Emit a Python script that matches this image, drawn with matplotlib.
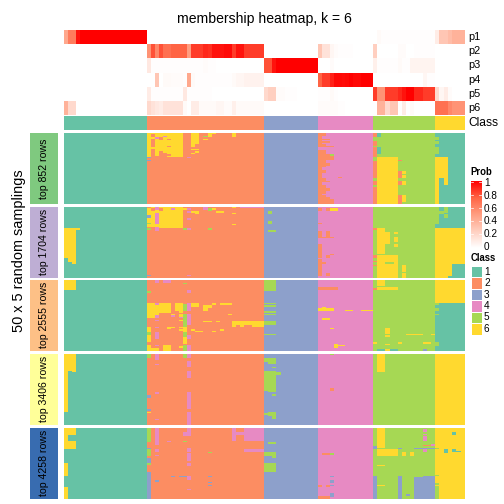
import numpy as np
import matplotlib
matplotlib.use("Agg")
import matplotlib.pyplot as plt
from matplotlib.colors import ListedColormap, LinearSegmentedColormap, BoundaryNorm

plt.rcParams['font.family'] = ['Liberation Sans', 'DejaVu Sans']

class_colors = ["#66C2A5", "#FC8D62", "#8DA0CB", "#E78AC3", "#A6D854", "#FFD92F"]
panel_colors = ["#7FC97F", "#BEAED4", "#FDC086", "#FFFF99", "#386CB0"]
panel_labels = ["top 852 rows", "top 1704 rows", "top 2555 rows", "top 3406 rows", "top 4258 rows"]
row_names = ["p1", "p2", "p3", "p4", "p5", "p6"]
prob_ticks = [0, 0.2, 0.4, 0.6, 0.8, 1]
class_ticks = [1, 2, 3, 4, 5, 6]

# number of columns in each class block
group_cols = [21, 29, 13, 14, 15, 7]
n_rows = 50

# membership probabilities, one list per class block
p1 = [[.45, .65, .65, .95] + [1] * 17, [0] * 29, [0] * 13, [0] * 14,
      [0, .03, .01, .01, .01, .01, .01, .01, .01, .01, .01, .01, .01, .01, .01],
      [.1, .3, .3, .35, .4, .4, .4]]
p2 = [[0] * 21,
      [.55, .8, .6, .8, .7, .7, .75, .75, .75, .75, .5, .85, .85, .85, .9, .88, .95, .95, .95,
       .97, .97, .85, .95, .95, .85, .85, .85, .85, .85],
      [0] * 13, [.3, .15, .15, .05, .02, .01, .01, .01, .01, 0, 0, 0, 0, 0],
      [.25, 0, 0, 0, 0, 0, .02, .02, 0, 0, .01, .01, .01, .01, .01], [0] * 7]
p3 = [[0] * 21,
      [.12, .01, .01, .01, .01, .01, .01, .01, .01, .01, .01, .01, .01, .01, .02, .01, .01, 0, 0, 0, 0, 0, 0, 0, 0, 0, 0, 0, 0],
      [.8, .8, .95, 1, 1, 1, 1, 1, 1, 1, 1, 1, 1], [0, 0, 0, .02, 0, 0, 0, 0, 0, 0, 0, 0, 0, 0],
      [.08, .01, .01, .01, .01, .01, .03, .01, .01, .06, .06, .06, .06, .06, .06], [0] * 7]
p4 = [[0] * 21,
      [0, 0, .3, 0, .03, .03, .02, .02, .02, .01, .45, .03, .01, .01, .01, .01, .01, .01, .01,
       .01, .01, .03, .05, .05, .07, .07, .07, .07, .07],
      [0] * 13, [.75, .85, .85, .92, .98, .98, .97, .98, 1, .98, .98, 1, 1, 1],
      [0, 0, 0, 0, 0, 0, 0, 0, 0, 0, 0, 0, .05, .01, .01], [0] * 7]
p5 = [[0] * 21,
      [.1, .01, .01, .01, .01, .01, .01, .01, .01, .12, .01, .01, .01, .01, .01, .01, 0, 0, 0, 0, 0, 0, 0, 0, 0, 0, 0, 0, 0],
      [.2, .25, .25, .02, .02, .01, .01, .01, 0, 0, 0, 0, 0],
      [.01, .01, .01, .03, .01, 0, 0, 0, 0, 0, 0, 0, 0, 0],
      [.85, .55, .55, .85, .85, .85, .9, .95, 1, 1, .9, .9, .85, .85, .85],
      [.2, .05, .1, .02, 0, 0, 0]]
p6 = [[.4, .2, .2] + [0] * 18,
      [.2, .15, .12, .1, .15, .15, .15, .15, .15, .03, 0, .1, .1, .03, .03, .03, .03, .05, .05,
       .02, .02, .08, .03, .03, .03, .03, .03, .03, .03],
      [0] * 13, [.02, .02, .02, .02, .02, .01, .01, 0, 0, 0, 0, 0, 0, 0],
      [0, .4, .4, .2, .3, .3, 0, .1, 0, .03, 0, 0, 0, 0, 0],
      [.7, .7, .7, .6, .55, .55, .55]]
prob_rows = [p1, p2, p3, p4, p5, p6]

# cells that differ from the consensus class:
# (class block, first col, end col, first row, end row, class)
top_852 = [
    (2, 0, 9, 0, 17, 6), (2, 1, 2, 1, 3, 2), (2, 1, 2, 4, 10, 2), (2, 1, 2, 11, 17, 2),
    (2, 2, 3, 3, 4, 4), (2, 2, 3, 16, 17, 2), (2, 3, 4, 3, 5, 2), (2, 3, 4, 13, 17, 2),
    (2, 4, 5, 2, 3, 4), (2, 4, 5, 14, 17, 2), (2, 5, 6, 4, 5, 2), (2, 5, 6, 9, 10, 2),
    (2, 5, 6, 15, 16, 2), (2, 11, 13, 0, 8, 6), (2, 11, 12, 8, 10, 6), (2, 11, 13, 11, 12, 6),
    (2, 12, 13, 13, 14, 6), (2, 11, 12, 14, 15, 6), (2, 14, 15, 2, 3, 5), (2, 14, 15, 4, 5, 6),
    (2, 15, 16, 0, 3, 6), (2, 16, 17, 0, 1, 6), (2, 21, 22, 0, 3, 6),
    (2, 0, 1, 17, 18, 3), (2, 0, 1, 19, 20, 3), (2, 10, 11, 17, 18, 4),
    (4, 5, 6, 31, 32, 2), (4, 3, 4, 15, 16, 5),
    (5, 0, 1, 0, 3, 2), (5, 0, 1, 6, 9, 2), (5, 0, 1, 10, 17, 2), (5, 0, 1, 20, 32, 2),
    (5, 0, 1, 34, 37, 2), (5, 0, 1, 38, 50, 2), (5, 1, 2, 0, 3, 1), (5, 1, 2, 10, 15, 1),
    (5, 1, 6, 17, 50, 6), (5, 6, 7, 19, 20, 2), (5, 6, 7, 27, 32, 2), (5, 7, 8, 27, 29, 6),
    (5, 7, 8, 30, 32, 6), (5, 6, 7, 34, 37, 2), (5, 7, 8, 34, 37, 6), (5, 6, 7, 44, 50, 2),
    (5, 7, 8, 44, 49, 6),
    (6, 0, 7, 0, 50, 1), (6, 0, 1, 3, 5, 5), (6, 0, 1, 6, 8, 5), (6, 0, 1, 10, 15, 5),
    (6, 0, 3, 17, 32, 6), (6, 0, 1, 32, 50, 6), (6, 2, 3, 32, 37, 6),
]
top_1704 = [
    (1, 0, 3, 15, 36, 6), (1, 1, 3, 36, 39, 6), (1, 2, 3, 39, 40, 6), (1, 3, 4, 15, 16, 6),
    (2, 0, 9, 0, 15, 6), (2, 0, 1, 0, 1, 2), (2, 0, 1, 6, 8, 3), (2, 0, 1, 11, 12, 5),
    (2, 0, 1, 14, 15, 2), (2, 0, 1, 15, 16, 5), (2, 1, 2, 1, 3, 2), (2, 1, 2, 14, 15, 2),
    (2, 2, 3, 0, 2, 4), (2, 2, 3, 4, 12, 4), (2, 2, 3, 14, 17, 4), (2, 3, 4, 1, 3, 2),
    (2, 6, 7, 1, 2, 4), (2, 9, 10, 1, 2, 6), (2, 10, 11, 1, 2, 4), (2, 10, 11, 3, 4, 4),
    (2, 10, 11, 8, 9, 4), (2, 9, 10, 15, 16, 5), (2, 10, 11, 15, 16, 4), (2, 11, 12, 3, 4, 6),
    (2, 12, 13, 3, 5, 6), (2, 14, 15, 0, 2, 4), (2, 15, 16, 1, 3, 5), (2, 15, 16, 15, 16, 5),
    (2, 16, 17, 1, 2, 6), (2, 17, 19, 3, 4, 6), (2, 21, 22, 0, 1, 6), (2, 21, 22, 4, 5, 6),
    (2, 21, 22, 12, 13, 6), (2, 23, 29, 0, 1, 4), (2, 0, 1, 48, 49, 3), (2, 10, 11, 48, 49, 4),
    (3, 1, 2, 3, 5, 5), (3, 1, 2, 10, 12, 5), (3, 1, 3, 16, 18, 5),
    (4, 0, 1, 1, 3, 2), (4, 2, 3, 1, 3, 2), (4, 3, 5, 1, 3, 6), (4, 0, 1, 11, 12, 2),
    (4, 0, 1, 17, 22, 2), (4, 2, 3, 17, 22, 2), (4, 1, 4, 21, 22, 2), (4, 0, 1, 26, 36, 2),
    (4, 2, 3, 34, 36, 2), (4, 3, 4, 33, 34, 2), (4, 0, 1, 37, 49, 2), (4, 1, 2, 39, 40, 2),
    (4, 2, 3, 47, 49, 2),
    (5, 0, 1, 15, 16, 2), (5, 0, 1, 34, 36, 2), (5, 0, 1, 38, 39, 2), (5, 0, 1, 41, 42, 2),
    (5, 1, 3, 15, 33, 6), (5, 3, 4, 18, 26, 6), (5, 5, 6, 18, 19, 6), (5, 5, 6, 21, 25, 6),
    (5, 5, 6, 26, 28, 6), (5, 1, 6, 34, 50, 6), (5, 3, 5, 39, 40, 5), (5, 7, 8, 41, 46, 6),
    (5, 7, 8, 47, 50, 6),
    (6, 0, 7, 0, 15, 1), (6, 0, 1, 0, 12, 5), (6, 1, 2, 3, 5, 5), (6, 2, 3, 0, 4, 5),
    (6, 2, 3, 5, 8, 5), (6, 4, 7, 40, 50, 1), (6, 3, 4, 49, 50, 1),
]
top_2555 = [
    (1, 0, 3, 0, 7, 6),
    (2, 2, 3, 0, 2, 4), (2, 4, 6, 0, 2, 4), (2, 9, 10, 2, 3, 5), (2, 0, 1, 8, 9, 5),
    (2, 10, 11, 7, 9, 4), (2, 0, 6, 16, 22, 6), (2, 7, 9, 16, 22, 6), (2, 2, 3, 16, 18, 4),
    (2, 9, 10, 17, 22, 5), (2, 10, 11, 16, 22, 4), (2, 0, 2, 22, 27, 6), (2, 2, 3, 22, 25, 6),
    (2, 2, 3, 25, 27, 4), (2, 2, 3, 28, 29, 4), (2, 3, 6, 22, 23, 6), (2, 6, 7, 24, 25, 6),
    (2, 6, 7, 25, 26, 4), (2, 8, 9, 22, 23, 6), (2, 8, 9, 24, 26, 6), (2, 8, 9, 26, 27, 4),
    (2, 8, 9, 28, 29, 6), (2, 9, 10, 24, 33, 5), (2, 10, 11, 24, 32, 4), (2, 9, 10, 33, 37, 6),
    (2, 9, 10, 37, 40, 5), (2, 9, 10, 40, 45, 6), (2, 9, 10, 46, 50, 5), (2, 10, 11, 39, 42, 4),
    (2, 10, 11, 46, 50, 4), (2, 0, 1, 33, 37, 6), (2, 0, 1, 37, 39, 5), (2, 0, 1, 39, 44, 6),
    (2, 0, 1, 46, 48, 6), (2, 0, 3, 48, 50, 6), (2, 2, 3, 33, 34, 4), (2, 2, 3, 37, 42, 4),
    (2, 2, 3, 46, 47, 4), (2, 5, 6, 33, 35, 6), (2, 6, 7, 33, 34, 6), (2, 8, 9, 33, 34, 6),
    (2, 8, 9, 35, 36, 6), (2, 4, 6, 46, 50, 6), (2, 8, 9, 47, 48, 6),
    (2, 11, 13, 16, 19, 6), (2, 14, 16, 18, 20, 6), (2, 14, 15, 20, 22, 6), (2, 16, 17, 16, 18, 6),
    (2, 18, 21, 16, 18, 6), (2, 20, 21, 24, 25, 6), (2, 14, 16, 29, 30, 6), (2, 17, 18, 29, 30, 6),
    (2, 21, 29, 29, 33, 6), (2, 22, 23, 32, 33, 2), (2, 24, 26, 32, 33, 2), (2, 11, 12, 35, 36, 6),
    (2, 12, 14, 36, 37, 6), (2, 16, 17, 36, 37, 6), (2, 18, 19, 35, 36, 6),
    (3, 0, 3, 0, 8, 5), (3, 0, 3, 16, 17, 5), (3, 0, 3, 18, 19, 5), (3, 0, 3, 22, 23, 5),
    (3, 0, 3, 24, 25, 5), (3, 0, 3, 29, 32, 5), (3, 0, 3, 38, 39, 5),
    (4, 0, 5, 5, 7, 2), (4, 0, 1, 20, 22, 6), (4, 1, 2, 19, 22, 6), (4, 2, 4, 20, 22, 6),
    (4, 7, 9, 21, 22, 6), (4, 11, 14, 21, 22, 6), (4, 1, 3, 27, 28, 6), (4, 3, 4, 34, 35, 6),
    (4, 4, 5, 45, 48, 6), (4, 5, 7, 46, 47, 6),
    (5, 1, 3, 0, 4, 6), (5, 1, 6, 5, 7, 6), (5, 0, 1, 6, 7, 2), (5, 3, 4, 34, 38, 6),
    (5, 3, 4, 39, 40, 6), (5, 8, 12, 38, 39, 6), (5, 14, 15, 38, 39, 6), (5, 0, 1, 44, 45, 6),
    (5, 3, 4, 45, 46, 6), (5, 6, 7, 44, 45, 6), (5, 12, 14, 44, 45, 6), (5, 1, 3, 49, 50, 1),
    (5, 3, 4, 49, 50, 6), (5, 4, 6, 49, 50, 1), (5, 12, 13, 49, 50, 3),
    (6, 0, 7, 16, 50, 1), (6, 0, 1, 16, 18, 5), (6, 0, 1, 20, 22, 5), (6, 0, 1, 24, 25, 5),
    (6, 0, 1, 44, 47, 5),
]
top_3406 = [
    (1, 0, 3, 0, 12, 6), (1, 2, 3, 12, 13, 6), (1, 0, 1, 12, 41, 6),
    (2, 0, 1, 0, 3, 5), (2, 2, 3, 0, 4, 4), (2, 2, 3, 7, 8, 4), (2, 10, 11, 5, 9, 4),
    (2, 9, 10, 0, 3, 5), (2, 10, 11, 0, 3, 4), (2, 10, 11, 12, 17, 4), (2, 10, 11, 27, 39, 4),
    (2, 10, 11, 41, 50, 4), (2, 2, 3, 27, 28, 4), (2, 2, 3, 46, 47, 4), (2, 0, 1, 29, 31, 3),
    (2, 0, 1, 39, 40, 3), (2, 0, 1, 41, 42, 6),
    (3, 0, 3, 3, 6, 5), (3, 1, 3, 6, 7, 5), (3, 2, 3, 9, 10, 5), (3, 0, 3, 12, 26, 5),
    (3, 3, 4, 13, 15, 5), (3, 1, 3, 26, 27, 5), (3, 2, 3, 28, 30, 5), (3, 0, 1, 42, 43, 5),
    (3, 1, 3, 41, 44, 5), (3, 2, 3, 44, 46, 5),
    (4, 3, 4, 0, 1, 5), (4, 3, 4, 24, 26, 2),
    (5, 1, 3, 0, 13, 6),
]
top_4258 = [
    (1, 0, 3, 0, 5, 6), (1, 0, 1, 5, 9, 6), (1, 0, 3, 9, 15, 6), (1, 0, 1, 25, 34, 6),
    (1, 0, 1, 42, 50, 6),
    (2, 0, 1, 0, 10, 5), (2, 2, 3, 0, 12, 4), (2, 0, 1, 14, 15, 3), (2, 0, 1, 15, 20, 5),
    (2, 0, 1, 21, 25, 3), (2, 0, 1, 25, 26, 5), (2, 0, 1, 31, 50, 3), (2, 2, 3, 15, 17, 4),
    (2, 2, 3, 19, 20, 4), (2, 5, 6, 9, 10, 4), (2, 9, 10, 3, 6, 4), (2, 10, 11, 0, 6, 4),
    (2, 9, 10, 9, 10, 5), (2, 10, 11, 14, 17, 4), (2, 10, 11, 18, 23, 4), (2, 10, 11, 25, 27, 4),
    (2, 10, 11, 34, 37, 4), (2, 10, 11, 43, 44, 4), (2, 15, 16, 17, 18, 5), (2, 2, 3, 37, 38, 3),
    (2, 6, 7, 34, 35, 3), (2, 8, 10, 34, 35, 3), (2, 15, 16, 34, 35, 3), (2, 15, 16, 38, 39, 3),
    (2, 15, 16, 40, 41, 3), (2, 21, 22, 0, 9, 4), (2, 22, 24, 3, 5, 4), (2, 24, 29, 0, 9, 4),
    (2, 24, 29, 15, 17, 4),
    (3, 1, 3, 10, 11, 5), (3, 0, 3, 17, 20, 5), (3, 2, 3, 20, 21, 5), (3, 0, 3, 25, 31, 5),
    (4, 1, 3, 18, 19, 2), (4, 3, 4, 18, 19, 5), (4, 3, 4, 34, 35, 3), (4, 3, 4, 37, 39, 3),
    (4, 3, 4, 40, 41, 3), (4, 0, 1, 40, 42, 2), (4, 2, 3, 40, 42, 2), (4, 3, 4, 46, 49, 3),
    (4, 0, 3, 48, 50, 2),
    (5, 1, 3, 0, 14, 6), (5, 0, 1, 13, 15, 3), (5, 6, 7, 14, 15, 3), (5, 10, 15, 14, 15, 3),
    (5, 1, 6, 15, 20, 6), (5, 7, 8, 17, 20, 6), (5, 9, 10, 17, 20, 6), (5, 1, 3, 26, 27, 6),
    (5, 0, 1, 34, 50, 3), (5, 6, 7, 34, 50, 3), (5, 1, 3, 40, 41, 6), (5, 10, 12, 35, 50, 3),
    (5, 12, 15, 34, 50, 3), (5, 12, 13, 1, 3, 4), (5, 12, 13, 4, 5, 4), (5, 12, 13, 6, 9, 4),
    (5, 12, 13, 15, 17, 4), (5, 12, 14, 12, 13, 2), (5, 14, 15, 11, 13, 4), (5, 8, 9, 47, 48, 3),
    (6, 0, 1, 14, 15, 5), (6, 4, 5, 3, 5, 1), (6, 2, 3, 15, 18, 1), (6, 4, 5, 15, 17, 1),
    (6, 5, 6, 16, 17, 1), (6, 0, 1, 33, 34, 5), (6, 0, 1, 39, 40, 5), (6, 0, 1, 41, 50, 5),
]
panel_cells = [top_852, top_1704, top_2555, top_3406, top_4258]

# pink block of the first panel, length of the orange run on the left of each row
orange_run_852 = [2, 2, 1, 1, 3, 1, 3, 1, 2, 4, 0, 0, 2, 2, 2, 3, 4, 4, 4, 2, 2, 3, 3, 2, 1,
                  1, 2, 2, 1, 1, 1, 1, 2, 2, 3, 1, 1, 2, 2, 3, 3, 2, 2, 1, 2, 3, 3, 4, 4, 4]

# layout in pixels of the 504x504 picture
W = 504
group_px = [83, 117, 54, 55, 62, 30]
left, right = 64, 465
panel_tops = [133, 207, 280, 354, 428]
panel_h = 70.7


def px_axes(fig, x0, y0, x1, y1):
    ax = fig.add_axes([x0 / W, 1 - y1 / W, (x1 - x0) / W, (y1 - y0) / W])
    ax.axis("off")
    return ax


fig = plt.figure(figsize=(7, 7), dpi=72)

# column edges: each class block is split evenly over its own width
col_edges = [0.0]
for n, w in zip(group_cols, group_px):
    col_edges.extend(col_edges[-1] + (np.arange(1, n + 1) * w / n))
col_edges = np.array(col_edges)
starts = np.cumsum([0] + group_cols[:-1])
consensus = np.repeat(np.arange(1, 7), group_cols)

class_cmap = ListedColormap(class_colors)
class_norm = BoundaryNorm(np.arange(0.5, 7.5), 6)
prob_cmap = LinearSegmentedColormap.from_list(
    "prob", ["#FFFFFF", "#FFCFC0", "#FF9E81", "#FF6545", "#FF0000"])

# membership rows
top = px_axes(fig, left, 30, right, 115)
prob = np.array([np.concatenate(r) for r in prob_rows], dtype=float)
top.pcolormesh(col_edges, np.arange(7), prob, cmap=prob_cmap, vmin=0, vmax=1)
top.set_ylim(6, 0)
for i, name in enumerate(row_names):
    fig.text(468 / W, 1 - (30 + 14.17 * (i + 0.5)) / W, name, fontsize=11, va="center")

cls = px_axes(fig, left, 116, right, 130)
cls.pcolormesh(col_edges, [0, 1], consensus[None, :], cmap=class_cmap, norm=class_norm)
fig.text(468 / W, 1 - 123 / W, "Class", fontsize=12, va="center")

# one panel per number of top rows
for i, cells in enumerate(panel_cells):
    y0 = panel_tops[i]
    mat = np.tile(consensus, (n_rows, 1))
    if i == 0:
        for r, run in enumerate(orange_run_852):
            mat[r, starts[3]:starts[3] + run] = 2
    for g, c0, c1, r0, r1, val in cells:
        mat[r0:r1, starts[g - 1] + c0:starts[g - 1] + c1] = val
    ax = px_axes(fig, left, y0, right, y0 + panel_h)
    ax.pcolormesh(col_edges, np.arange(n_rows + 1), mat, cmap=class_cmap, norm=class_norm)
    ax.set_ylim(n_rows, 0)

    bar = px_axes(fig, 30, y0, 58, y0 + panel_h)
    bar.set_facecolor(panel_colors[i])
    bar.axis("on")
    bar.set_xticks([])
    bar.set_yticks([])
    for s in bar.spines.values():
        s.set_visible(False)
    bar.text(0.5, 0.5, panel_labels[i], transform=bar.transAxes, rotation=90,
             ha="center", va="center", fontsize=10.5)

fig.text(264 / W, 1 - 19 / W, "membership heatmap, k = 6", fontsize=14, ha="center", va="center")
fig.text(19 / W, 1 - 251 / W, "50 x 5 random samplings", fontsize=14.5, rotation=90,
         ha="center", va="center")

# Prob legend
fig.text(470.5 / W, 1 - 172 / W, "Prob", fontsize=9.5, fontweight="bold", va="center")
cb = px_axes(fig, 470.5, 181, 481.5, 248)
cb.imshow(np.linspace(1, 0, 200)[:, None], aspect="auto", cmap=prob_cmap, vmin=0, vmax=1,
          extent=[0, 1, 0, 1])
for t in prob_ticks:
    yy = 0.015 + t * 0.97
    cb.plot([0, 0.2], [yy, yy], color="white", lw=0.7)
    cb.plot([0.8, 1], [yy, yy], color="white", lw=0.7)
    fig.text(484 / W, 1 - (247 - t * 64) / W, f"{t:g}", fontsize=10, va="center")
cb.set_xlim(0, 1)
cb.set_ylim(0, 1)

# Class legend
fig.text(470.5 / W, 1 - 258 / W, "Class", fontsize=9.5, fontweight="bold", va="center")
leg = px_axes(fig, 470.5, 266, 481.5, 334.5)
leg.pcolormesh([0, 1], np.arange(7), np.array(class_ticks)[:, None], cmap=class_cmap,
               norm=class_norm, edgecolors="white", linewidth=0.8)
leg.set_ylim(6, 0)
for i, t in enumerate(class_ticks):
    fig.text(484 / W, 1 - (266 + 11.4 * (i + 0.5)) / W, str(t), fontsize=10, va="center")

fig.savefig("out.png", dpi=72)
